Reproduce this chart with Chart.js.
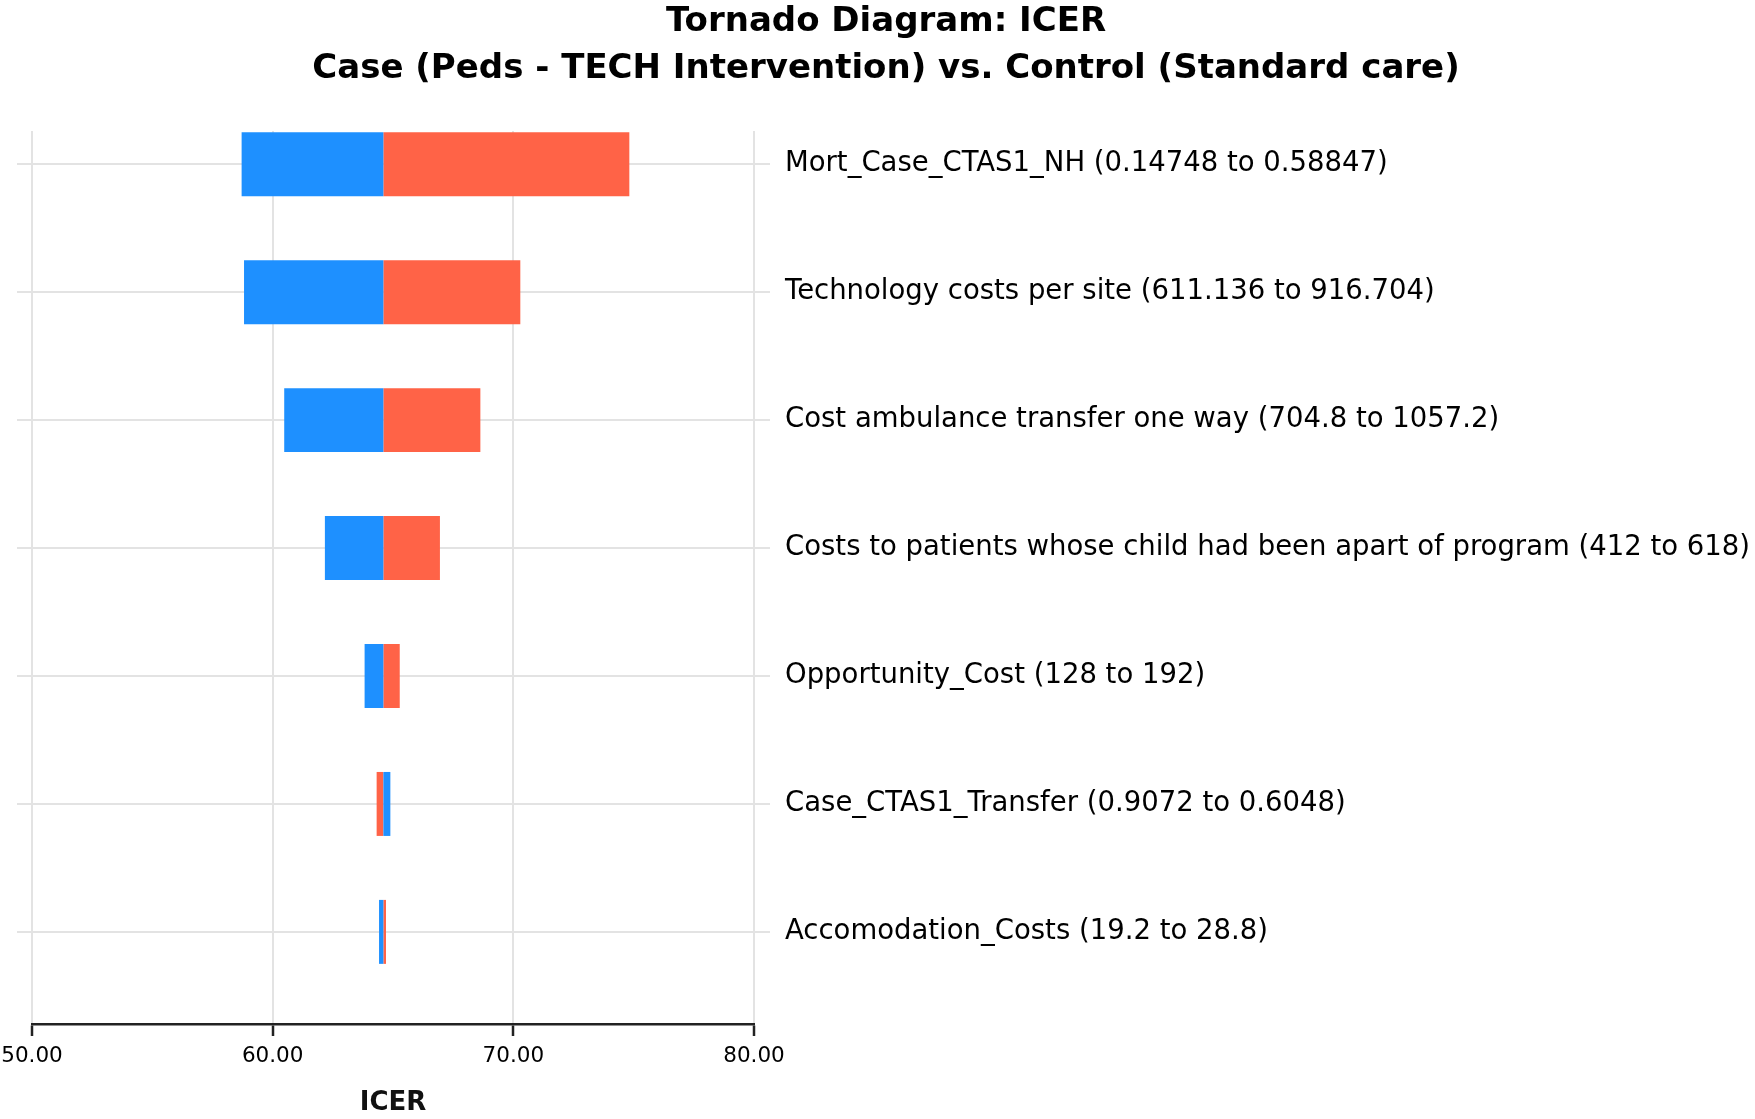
<!DOCTYPE html>
<html lang="en">
    <head>
        <meta charset="UTF-8">
        <title>Tornado Diagram: ICER</title>
        <script src="https://cdn.jsdelivr.net/npm/chart.js"></script>
        <style>
            html, body { margin: 0; padding: 0; background: #fff; }
            .chart-container { width: 1755px; height: 1119px; }
        </style>
    </head>
<body>
    <div class="chart-container">
        <canvas id="tornadoChart"></canvas>
    </div>

    <script>
        // Parametreler (yukaridan asagiya)
        const parameterLabels = [
            'Mort_Case_CTAS1_NH (0.14748 to 0.58847)',
            'Technology costs per site (611.136 to 916.704)',
            'Cost ambulance transfer one way (704.8 to 1057.2)',
            'Costs to patients whose child had been apart of program (412 to 618)',
            'Opportunity_Cost (128 to 192)',
            'Case_CTAS1_Transfer (0.9072 to 0.6048)',
            'Accomodation_Costs (19.2 to 28.8)'
        ];

        // ICER degerleri
        const baseIcer = 64.60;
        const lowInputIcer = [58.71, 58.81, 60.48, 62.17, 63.82, 64.89, 64.42];   // mavi
        const highInputIcer = [74.82, 70.29, 68.63, 66.95, 65.28, 64.32, 64.71];  // kirmizi
        const xTicks = [50, 60, 70, 80];

        const FONT = 'DejaVu Sans';
        const gridColor = '#e3e3e3';

        const rowTicks = scale => {
            scale.ticks = parameterLabels.map((_, i) => ({ value: i }));
        };

        const ctx = document.getElementById('tornadoChart').getContext('2d');
        new Chart(ctx, {
            type: 'bar',
            data: {
                datasets: [
                    {
                        label: 'Low',
                        data: lowInputIcer.map((v, i) => ({ y: i, x: [baseIcer, v] })),
                        backgroundColor: '#1E90FF',
                        borderWidth: 0,
                        grouped: false,
                        barPercentage: 0.5,
                        categoryPercentage: 1.0,
                        yAxisID: 'y'
                    },
                    {
                        label: 'High',
                        data: highInputIcer.map((v, i) => ({ y: i, x: [baseIcer, v] })),
                        backgroundColor: '#FF6347',
                        borderWidth: 0,
                        grouped: false,
                        barPercentage: 0.5,
                        categoryPercentage: 1.0,
                        yAxisID: 'y'
                    }
                ]
            },
            options: {
                indexAxis: 'y',
                responsive: true,
                maintainAspectRatio: false,
                animation: false,
                devicePixelRatio: 1,
                layout: { padding: { left: 17, right: 0, top: 0, bottom: 0 } },
                scales: {
                    x: {
                        type: 'linear',
                        position: 'bottom',
                        min: 50,
                        max: 80,
                        afterBuildTicks: scale => { scale.ticks = xTicks.map(v => ({ value: v })); },
                        afterFit: scale => {
                            scale.height = 95;
                            scale.paddingLeft = 32;
                        },
                        ticks: {
                            callback: v => Number(v).toFixed(2),
                            font: { family: FONT, size: 21.5 },
                            color: '#000',
                            padding: 8,
                            maxRotation: 0
                        },
                        grid: {
                            color: gridColor,
                            lineWidth: 2,
                            tickColor: '#222',
                            tickLength: 12,
                            tickWidth: 2.5
                        },
                        border: { color: '#222', width: 2.5 },
                        title: {
                            display: true,
                            text: 'ICER',
                            font: { family: FONT, size: 26, weight: 'bold' },
                            color: '#111',
                            padding: { top: 0, bottom: 0 }
                        }
                    },
                    y: {
                        type: 'linear',
                        position: 'right',
                        reverse: true,
                        offset: false,
                        min: -0.26,
                        max: 6.72,
                        afterBuildTicks: rowTicks,
                        afterFit: scale => { scale.width = 1001; },
                        ticks: {
                            callback: (v, i) => parameterLabels[i],
                            font: { family: FONT, size: 27.5 },
                            color: '#000',
                            padding: 15,
                            autoSkip: false
                        },
                        grid: {
                            color: gridColor,
                            lineWidth: 2,
                            offset: false,
                            drawTicks: true,
                            tickLength: 16
                        },
                        border: { display: false }
                    },
                    yLeft: {
                        type: 'linear',
                        position: 'left',
                        reverse: true,
                        offset: false,
                        min: -0.26,
                        max: 6.72,
                        afterBuildTicks: rowTicks,
                        ticks: { display: false },
                        grid: {
                            color: gridColor,
                            lineWidth: 2,
                            offset: false,
                            drawOnChartArea: false,
                            drawTicks: true,
                            tickLength: 15
                        },
                        border: { display: false }
                    }
                },
                plugins: {
                    legend: { display: false },
                    tooltip: { enabled: false },
                    title: {
                        display: true,
                        text: 'Tornado Diagram: ICER',
                        font: { family: FONT, size: 34, weight: 'bold', lineHeight: 1 },
                        color: '#000',
                        padding: { top: 5, bottom: 13 }
                    },
                    subtitle: {
                        display: true,
                        text: 'Case (Peds - TECH Intervention) vs. Control (Standard care)',
                        font: { family: FONT, size: 34, weight: 'bold', lineHeight: 1 },
                        color: '#000',
                        padding: { top: 0, bottom: 45 }
                    }
                }
            }
        });
    </script>
</body>
</html>
